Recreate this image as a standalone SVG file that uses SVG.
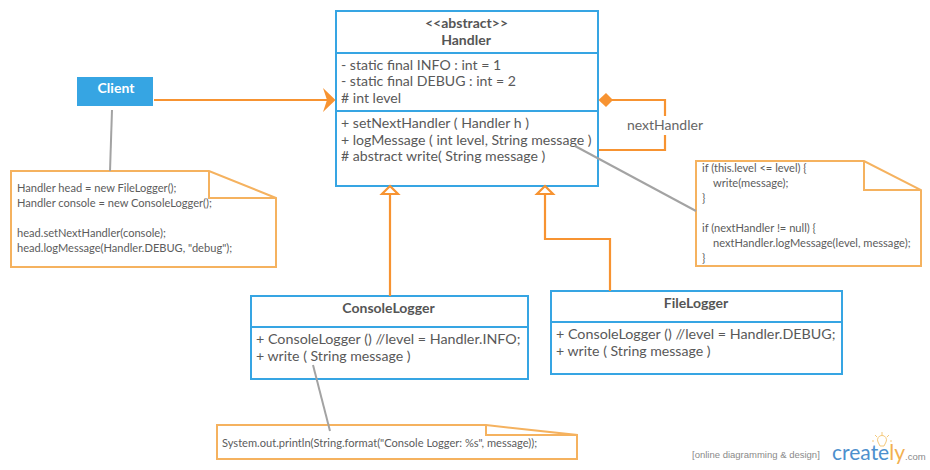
<svg xmlns="http://www.w3.org/2000/svg" width="930" height="470" viewBox="0 0 930 470">
<style>
text{font-family:Lato,"Open Sans","Liberation Sans",sans-serif;fill:#555}
.box{fill:#fff;stroke:#36a5e3;stroke-width:2}
.div{stroke:#36a5e3;stroke-width:2;fill:none}
.m{font-size:14.100px;fill:#595959}
.t{font-size:14px;font-weight:700;text-anchor:middle}
.n{font-size:11.100px;fill:#5c5c5c}
.note{fill:#fff;stroke:#f5b25f;stroke-width:2}
.fold{fill:none;stroke:#f5b25f;stroke-width:2}
.con{fill:none;stroke:#f79331;stroke-width:2.200}
.tri{fill:#fff;stroke:#f79331;stroke-width:2.200}
.gray{fill:none;stroke:#a3a3a3;stroke-width:2}
.wm{font-family:"Liberation Sans",sans-serif;fill:#8a8a8a}
</style>
<g id="node-handler">
<rect class="box" x="336" y="11" width="262" height="175"/>
<path class="div" d="M336 53H598M336 111H598"/>
<text class="t" x="466.500" y="28">&lt;&lt;abstract&gt;&gt;</text>
<text class="t" x="466" y="45">Handler</text>
<text class="m" x="341" y="70">- static final INFO : int = 1</text>
<text class="m" x="341" y="86">- static final DEBUG : int = 2</text>
<text class="m" x="341" y="103"># int level</text>
<text class="m" x="341" y="128">+ setNextHandler ( Handler h )</text>
<text class="m" x="341" y="145">+ logMessage ( int level, String message )</text>
<text class="m" x="341" y="161"># abstract write( String message )</text>
</g>
<g id="node-client">
<rect x="77" y="77" width="76" height="29" fill="#36a5e3"/>
<text x="116" y="93" font-size="14" font-weight="700" text-anchor="middle" style="fill:#fff">Client</text>
</g>
<g id="node-note-client">
<path class="note" d="M11 171H209L276 198V267H11Z"/>
<path class="fold" d="M209 171V198H276"/>
<text class="n" x="17" y="192">Handler head = new FileLogger();</text>
<text class="n" x="17" y="207">Handler console = new ConsoleLogger();</text>
<text class="n" x="17" y="237">head.setNextHandler(console);</text>
<text class="n" x="17" y="252">head.logMessage(Handler.DEBUG, "debug");</text>
</g>
<g id="node-note-logmessage">
<path class="note" d="M696 161H864L921 190V266H696Z"/>
<path class="fold" d="M864 161V190H921"/>
<text class="n" x="702" y="172">if (this.level &lt;= level) {</text>
<text class="n" x="713" y="187">write(message);</text>
<text class="n" x="702" y="202">}</text>
<text class="n" x="702" y="232">if (nextHandler != null) {</text>
<text class="n" x="713" y="247">nextHandler.logMessage(level, message);</text>
<text class="n" x="702" y="262">}</text>
</g>
<g id="node-consolelogger">
<rect class="box" x="251" y="296" width="277" height="83"/>
<path class="div" d="M251 327H528"/>
<text class="t" x="388.500" y="313">ConsoleLogger</text>
<text class="m" x="256" y="344" style="font-size:14.300px">+ ConsoleLogger () //level = Handler.INFO;</text>
<text class="m" x="256" y="361">+ write ( String message )</text>
</g>
<g id="node-filelogger">
<rect class="box" x="551" y="291" width="291" height="83"/>
<path class="div" d="M551 322H842"/>
<text class="t" x="696" y="308">FileLogger</text>
<text class="m" x="556" y="339" style="font-size:14.300px">+ ConsoleLogger () //level = Handler.DEBUG;</text>
<text class="m" x="556" y="356">+ write ( String message )</text>
</g>
<g id="node-note-console">
<path class="note" d="M217 425H486L577 435V459H217Z"/>
<path class="fold" d="M486 425V435H577"/>
<text class="n" x="222" y="447">System.out.println(String.format("Console Logger: %s", message));</text>
</g>
<g id="connectors">
<path class="con" d="M154 100H331"/>
<path d="M323 88L335.500 100L323 112L327 100Z" fill="#f79331"/>
<path class="con" d="M612 100H665V150H599"/>
<path d="M598.500 100L606 93L613 100L606 107Z" fill="#f79331"/>
<path class="con" d="M390 194V296"/>
<path class="tri" d="M390 186L398 194H382Z"/>
<path class="con" d="M545 194V239H610V291"/>
<path class="tri" d="M545 186L553 194H537Z"/>
<path class="gray" d="M112 110L110 171"/>
<path class="gray" d="M575 146L696 211"/>
<path class="gray" d="M313 365L330 431"/>
</g>
<g id="edge-label-nextHandler">
<rect x="625" y="116" width="80" height="19" fill="#fff"/>
<text x="665" y="130" font-size="14" text-anchor="middle" style="fill:#666">nextHandler</text>
</g>
<g id="watermark">
<text class="wm" x="692" y="458" font-size="9.500">[online diagramming &amp; design]</text>
<text x="832" y="460" font-size="21" style="fill:#4d90cd">create<tspan style="fill:#f2b04f">ly</tspan></text>
<text class="wm" x="905" y="460" font-size="9.500">.com</text>
<path d="M878 442A4.500 4.500 0 1 1 886 442L884 446H880Z" fill="#fff" stroke="#f5c97a" stroke-width="1"/>
<path d="M882 432V435M875 435L877 437M889 435L887 437M872 441H874M890 441H892" stroke="#f5c97a" stroke-width="1" fill="none"/>
</g>
</svg>
